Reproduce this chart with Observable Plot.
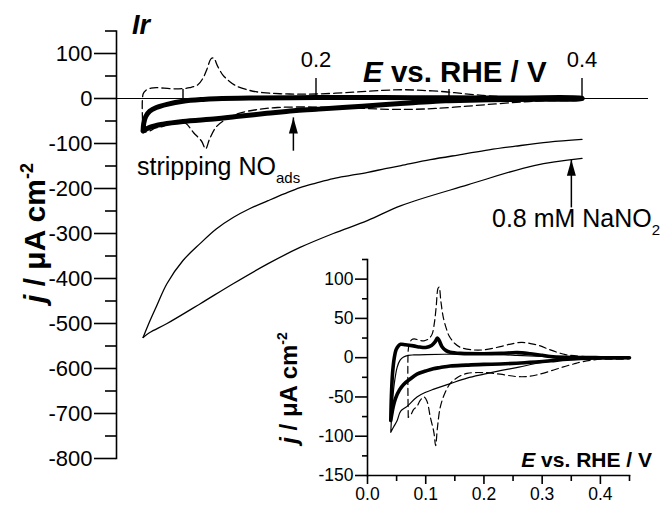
<!DOCTYPE html>
<html><head><meta charset="utf-8">
<script src="https://cdn.jsdelivr.net/npm/d3@7"></script>
<script src="https://cdn.jsdelivr.net/npm/@observablehq/plot@0.6"></script>
<style>
body{margin:0;background:#fff;}
#wrap{position:relative;width:663px;height:505px;overflow:hidden;font-family:"Liberation Sans",Arial,sans-serif;}
#wrap svg{position:absolute;overflow:visible;}
</style></head><body><div id="wrap"></div>
<script>
// ---------- main panel data (E / V vs RHE, j / µA cm-2) ----------
// blank CV (dashed) – shared by main panel and inset
const blankE = [0.070,0.070,0.072,0.076,0.080,0.090,0.097,0.105,0.111,0.115,0.118,0.121,0.123,0.126,0.130,0.135,0.140,0.150,0.160,0.180,0.200,0.228,0.250,0.265,0.280,0.297,0.310,0.325,0.340,0.355,0.380,0.400,0.450,
                0.450,0.400,0.370,0.354,0.335,0.314,0.290,0.274,0.255,0.228,0.200,0.171,0.155,0.142,0.133,0.125,0.120,0.117,0.114,0.108,0.102,0.097,0.090,0.085,0.079,0.075,0.070];
const blankJ = [-76,10,18,23,24,22,21.5,24,30,45,65,88,90,72,52,38,28,18,13,10,10,14,18,19.5,18,15,11,7,4,2.5,1,0.5,0,
                -1,-2,-5,-8,-12,-17,-22,-24,-24,-21,-19,-20,-25,-33,-45,-63,-90,-112,-95,-76,-55,-50,-55,-62,-66,-72,-76];
// NO_ads stripping scan (thick)
const stripE = [0.070,0.0705,0.072,0.075,0.080,0.088,0.100,0.115,0.125,0.150,0.200,0.250,0.300,0.350,0.400,
                0.400,0.370,0.330,0.300,0.290,0.270,0.250,0.220,0.200,0.183,0.163,0.140,0.125,0.100,0.085,0.075,0.070];
const stripJ = [-72,-55,-40,-28,-20,-13,-6,-2,-0.5,1,2,2,1.5,1,0.5,
                -0.5,-1.5,-3,-5,-6,-10,-14,-20,-24,-27,-33,-40,-45,-51,-57,-64,-72];
// 0.8 mM NaNO2 (thin): anodic branch and cathodic branch
const nitUpE = [0.070,0.075,0.080,0.088,0.100,0.113,0.125,0.138,0.150,0.164,0.176,0.188,0.200,0.213,0.226,0.239,0.252,0.264,0.286,0.310,0.330,0.350,0.375,0.400];
const nitUpJ = [-531,-495,-462,-411,-360,-322,-290,-264,-245,-227,-212,-198,-188,-178,-171,-164,-156,-149,-136,-124,-114,-106,-97,-91];
const nitDownE = [0.070,0.075,0.088,0.113,0.138,0.164,0.188,0.213,0.239,0.264,0.314,0.364,0.400];
const nitDownJ = [-531,-520,-500,-456,-411,-367,-331,-300,-271,-238,-192,-149,-133];
// ---------- inset data ----------
const insBoldE = [0.040,0.041,0.043,0.046,0.049,0.053,0.057,0.065,0.079,0.090,0.100,0.110,0.116,0.120,0.123,0.128,0.135,0.142,0.160,0.200,0.230,0.257,0.280,0.300,0.314,0.340,0.400,0.450,
                  0.450,0.400,0.343,0.314,0.270,0.228,0.200,0.170,0.142,0.125,0.113,0.100,0.085,0.072,0.062,0.055,0.048,0.044,0.040];
const insBoldJ = [-80,-50,-20,0,10,15,17,16.5,15,13.5,13,15.5,20,25,22,14,9,7,5.5,5,5.5,6.5,5,3,1.5,0.5,0,0,
                  0,-0.5,-2,-4,-6.5,-8,-8.5,-9.5,-10.5,-12.5,-14,-17,-21,-28,-34,-41,-52,-63,-80];
const insThinE = [0.040,0.041,0.043,0.046,0.051,0.056,0.062,0.070,0.080,0.100,0.150,0.200,0.257,0.300,0.330,0.400,0.450,
                  0.450,0.400,0.350,0.325,0.300,0.285,0.260,0.228,0.200,0.171,0.142,0.114,0.100,0.085,0.068,0.057,0.051,0.045,0.040];
const insThinJ = [-95,-80,-55,-33,-12,-3,1,3,3.5,4,4.5,4.5,3,1.5,0.5,0,0,
                  0,-0.5,-2,-4,-6,-8,-12,-16.5,-21,-26,-33,-40,-44,-50,-62,-68,-80,-88,-95];
// ---------- ticks ----------
const mainYMajor = [-800,-700,-600,-500,-400,-300,-200,-100,0,100];
const mainYMinor = [-750,-650,-550,-450,-350,-250,-150,-50,50,150];
const mainXMajor = [0.2,0.4];
const mainXMinor = [0.1,0.3];
const insYMajor = [-150,-100,-50,0,50,100];
const insYMinor = [-125,-75,-25,25,75,125];
const insXMajor = [0.0,0.1,0.2,0.3,0.4];
const insXMinor = [0.05,0.15,0.25,0.35,0.45];
// ---------- annotation arrows (E, from j, to j) ----------
const arrowE = [0.183,0.392];
const arrowFrom = [-116,-242];
const arrowTo = [-42,-136];

const rows = (E,J) => E.map((e,i)=>({E:e,j:J[i]}));
const arrows = arrowE.map((e,i)=>({E:e,from:arrowFrom[i],to:arrowTo[i]}));
const head = {draw(ctx){ctx.moveTo(0,0);ctx.lineTo(-4.5,16);ctx.lineTo(4.5,16);ctx.closePath();}};
const FONT = '"Liberation Sans",Arial,sans-serif';
const CURVE = "catmull-rom";

const main = Plot.plot({
  width:663, height:505,
  marginLeft:116, marginRight:15, marginTop:30.5, marginBottom:47,
  x:{domain:[0.05,0.45]}, y:{domain:[-800,150]},
  style:{fontFamily:FONT, background:"transparent", color:"#000"},
  marks:[
    Plot.frame({anchor:"left", strokeWidth:1.6}),
    Plot.ruleY([0], {strokeWidth:1.2}),
    Plot.axisY({ticks:mainYMajor, tickSize:22, tickPadding:2, strokeWidth:1.6, tickFormat:d=>String(d), label:null, fontSize:22}),
    Plot.axisY({ticks:mainYMinor, tickSize:11, strokeWidth:1.6, tickFormat:()=>"", label:null}),
    Plot.axisX({anchor:"top", ticks:mainXMajor, tickSize:21, dy:67.5, strokeWidth:1.4, tickPadding:11, tickFormat:d=>d.toFixed(1), label:null, fontSize:22}),
    Plot.axisX({anchor:"top", ticks:mainXMinor, tickSize:10, dy:67.5, strokeWidth:1.4, tickFormat:()=>"", label:null}),
    Plot.line(rows(blankE,blankJ).filter(d=>d.E<=0.4), {x:"E", y:"j", stroke:"#000", strokeWidth:1.3, strokeDasharray:"8,4", curve:CURVE}),
    Plot.line(rows(nitUpE,nitUpJ), {x:"E", y:"j", stroke:"#000", strokeWidth:1.3, curve:CURVE}),
    Plot.line(rows(nitDownE,nitDownJ), {x:"E", y:"j", stroke:"#000", strokeWidth:1.3, curve:CURVE}),
    Plot.line(rows(stripE,stripJ), {x:"E", y:"j", stroke:"#000", strokeWidth:5, strokeLinejoin:"round", curve:CURVE}),
    Plot.link(arrows, {x1:"E", x2:"E", y1:"from", y2:"to", stroke:"#000", strokeWidth:1.5}),
    Plot.dot(arrows, {x:"E", y:"to", symbol:head, fill:"#000", stroke:"none", r:1})
  ]
});

const inset = Plot.plot({
  width:363, height:265,
  marginLeft:67, marginRight:34, marginTop:19, marginBottom:30,
  x:{domain:[0,0.45]}, y:{domain:[-150,125]},
  style:{fontFamily:FONT, background:"transparent", color:"#000"},
  marks:[
    Plot.frame({anchor:"left", strokeWidth:1.6}),
    Plot.frame({anchor:"bottom", strokeWidth:1.6}),
    Plot.axisY({ticks:insYMajor, tickSize:12, tickPadding:2, strokeWidth:1.6, tickFormat:d=>String(d), label:null, fontSize:17.5}),
    Plot.axisY({ticks:insYMinor, tickSize:5, strokeWidth:1.6, tickFormat:()=>"", label:null}),
    Plot.axisX({ticks:insXMajor, tickSize:9, tickPadding:3, strokeWidth:1.6, tickFormat:d=>d.toFixed(1), label:null, fontSize:17.5}),
    Plot.axisX({ticks:insXMinor, tickSize:6, strokeWidth:1.6, tickFormat:()=>"", label:null}),
    Plot.line(rows(blankE,blankJ), {x:"E", y:"j", stroke:"#000", strokeWidth:1.2, strokeDasharray:"7,4", curve:CURVE}),
    Plot.line(rows(insThinE,insThinJ), {x:"E", y:"j", stroke:"#000", strokeWidth:1.2, curve:CURVE}),
    Plot.line(rows(insBoldE,insBoldJ), {x:"E", y:"j", stroke:"#000", strokeWidth:3.6, strokeLinejoin:"round", curve:CURVE})
  ]
});

const wrap = document.getElementById("wrap");
main.style.left="0px"; main.style.top="0px";
inset.style.left="300px"; inset.style.top="240px";
wrap.appendChild(main);
wrap.appendChild(inset);

// ---------- texts ----------
const ms = d3.select(main);
function yLabel(sel, x, y, size, supSize, supDy){
  const t = sel.append("text").attr("transform",`translate(${x},${y}) rotate(-90)`)
    .attr("text-anchor","middle").attr("font-family",FONT).attr("font-weight","bold").attr("font-size",size).attr("fill","#000");
  t.append("tspan").attr("font-style","italic").text("j");
  t.append("tspan").text(" / \u03bcA cm");
  t.append("tspan").attr("font-size",supSize).attr("dy",supDy).text("-2");
}
function eLabel(sel, x, y, size, anchor){
  const t = sel.append("text").attr("x",x).attr("y",y).attr("text-anchor",anchor)
    .attr("font-family",FONT).attr("font-weight","bold").attr("font-size",size).attr("fill","#000");
  t.append("tspan").attr("font-style","italic").text("E");
  t.append("tspan").text(" vs. RHE / V");
}
yLabel(ms, 45, 233, 30, 18, -12);
eLabel(ms, 363, 82, 29.5, "start");
ms.append("text").attr("x",132).attr("y",34).attr("text-anchor","start").attr("font-family",FONT).attr("font-weight","bold")
  .attr("font-style","italic").attr("font-size",27).text("Ir");
const s1 = ms.append("text").attr("x",137).attr("y",175).attr("text-anchor","start").attr("font-family",FONT).attr("font-size",25);
s1.append("tspan").text("stripping NO");
s1.append("tspan").attr("font-size",15).attr("dy",8).text("ads");
const s2 = ms.append("text").attr("x",492).attr("y",227).attr("text-anchor","start").attr("font-family",FONT).attr("font-size",25);
s2.append("tspan").text("0.8 mM NaNO");
s2.append("tspan").attr("font-size",15).attr("dy",8).text("2");

const is = d3.select(inset);
yLabel(is, -3, 148, 24, 14, -10);
eLabel(is, 352, 227, 21, "end");
</script>
</body></html>
